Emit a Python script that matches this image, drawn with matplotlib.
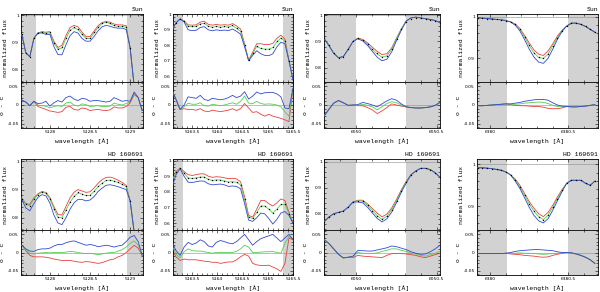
# Line profiles: observed flux vs three model fits, Sun and HD 160691, with o - c residuals
import matplotlib.pyplot as plt
from matplotlib.ticker import MultipleLocator, FuncFormatter

# wavelength grids (Angstrom), one per column
wl_5128 = [5127.65, 5127.70, 5127.75, 5127.80, 5127.85, 5127.90, 5127.95, 5128.00,
           5128.05, 5128.10, 5128.15, 5128.20, 5128.25, 5128.30, 5128.35, 5128.40,
           5128.45, 5128.50, 5128.55, 5128.60, 5128.65, 5128.70, 5128.75, 5128.80,
           5128.85, 5128.90, 5128.95, 5129.00, 5129.05, 5129.10, 5129.15]
wl_5164 = [5163.10, 5163.18, 5163.26, 5163.34, 5163.42, 5163.50, 5163.58, 5163.66,
           5163.74, 5163.82, 5163.90, 5163.98, 5164.06, 5164.14, 5164.22, 5164.30,
           5164.38, 5164.46, 5164.54, 5164.62, 5164.70, 5164.78, 5164.86, 5164.94,
           5165.02, 5165.10, 5165.18, 5165.26, 5165.34, 5165.42, 5165.50]
wl_6050 = [6049.80, 6049.83, 6049.86, 6049.89, 6049.92, 6049.95, 6049.98, 6050.01,
           6050.04, 6050.07, 6050.10, 6050.13, 6050.16, 6050.19, 6050.22, 6050.25,
           6050.28, 6050.31, 6050.34, 6050.37, 6050.40, 6050.43, 6050.46, 6050.49, 6050.52]
wl_6380 = [6379.92, 6379.95, 6379.98, 6380.01, 6380.04, 6380.07, 6380.10, 6380.13,
           6380.16, 6380.19, 6380.22, 6380.25, 6380.28, 6380.31, 6380.34, 6380.37,
           6380.40, 6380.43, 6380.46, 6380.49, 6380.52, 6380.55, 6380.58, 6380.61,
           6380.64, 6380.67]

# ---- Sun, 5128 ----
obs_sun1 = [0.930, 0.862, 0.848, 0.915, 0.935, 0.939, 0.936, 0.937, 0.900, 0.878, 0.883,
            0.918, 0.948, 0.957, 0.951, 0.932, 0.917, 0.917, 0.937, 0.957, 0.971, 0.976,
            0.972, 0.965, 0.962, 0.962, 0.958, 0.880, 0.740, 0.700, 0.680]
red_sun1 = [0.930, 0.862, 0.848, 0.915, 0.935, 0.940, 0.938, 0.940, 0.905, 0.882, 0.890,
            0.925, 0.955, 0.963, 0.958, 0.938, 0.922, 0.922, 0.942, 0.962, 0.974, 0.977,
            0.975, 0.968, 0.965, 0.965, 0.962, 0.880, 0.740, 0.700, 0.680]
green_sun1 = [0.930, 0.862, 0.848, 0.915, 0.935, 0.938, 0.935, 0.935, 0.898, 0.876, 0.880,
              0.915, 0.945, 0.954, 0.948, 0.930, 0.915, 0.915, 0.935, 0.955, 0.970, 0.975,
              0.970, 0.962, 0.960, 0.960, 0.956, 0.880, 0.740, 0.700, 0.680]
blue_sun1 = [0.930, 0.862, 0.848, 0.915, 0.935, 0.935, 0.930, 0.930, 0.885, 0.856, 0.855,
             0.892, 0.925, 0.940, 0.935, 0.915, 0.905, 0.905, 0.922, 0.943, 0.958, 0.963,
             0.960, 0.955, 0.953, 0.953, 0.948, 0.880, 0.740, 0.700, 0.680]
dred_sun1 = [0.013, 0.008, -0.002, 0.010, -0.004, -0.008, -0.012, -0.016, -0.018, -0.020, -0.018,
             -0.006, -0.004, -0.012, -0.014, -0.008, -0.010, -0.015, -0.013, -0.012, -0.014,
             -0.015, -0.013, -0.005, -0.008, -0.008, -0.004, 0.006, 0.028, 0.020, -0.015]
dgreen_sun1 = [0.013, 0.008, -0.002, 0.010, 0.000, -0.002, -0.003, -0.008, -0.004, -0.002, -0.004,
               0.005, 0.008, 0.000, -0.003, 0.003, 0.001, -0.004, -0.003, -0.002, -0.004,
               -0.004, -0.003, 0.005, 0.002, 0.000, 0.004, 0.008, 0.032, 0.020, -0.015]
dblue_sun1 = [0.013, 0.008, -0.002, 0.010, 0.004, 0.005, 0.010, -0.003, 0.006, 0.012, 0.008,
              0.020, 0.024, 0.016, 0.012, 0.018, 0.016, 0.010, 0.012, 0.012, 0.010,
              0.008, 0.010, 0.020, 0.015, 0.010, 0.012, 0.010, 0.035, 0.020, -0.015]

# ---- Sun, 5164 ----
obs_sun2 = [0.900, 0.945, 0.970, 0.955, 0.924, 0.922, 0.924, 0.940, 0.944, 0.924, 0.918,
            0.924, 0.918, 0.922, 0.920, 0.929, 0.912, 0.892, 0.802, 0.702, 0.747, 0.795,
            0.783, 0.778, 0.778, 0.788, 0.825, 0.850, 0.826, 0.700, 0.578]
red_sun2 = [0.900, 0.945, 0.970, 0.958, 0.932, 0.930, 0.932, 0.950, 0.955, 0.935, 0.930,
            0.935, 0.930, 0.933, 0.930, 0.940, 0.925, 0.905, 0.810, 0.705, 0.755, 0.810,
            0.810, 0.805, 0.805, 0.812, 0.845, 0.865, 0.840, 0.700, 0.578]
green_sun2 = [0.900, 0.945, 0.970, 0.955, 0.922, 0.920, 0.922, 0.938, 0.942, 0.922, 0.916,
              0.922, 0.916, 0.920, 0.918, 0.927, 0.910, 0.890, 0.800, 0.700, 0.745, 0.792,
              0.780, 0.775, 0.775, 0.785, 0.822, 0.847, 0.825, 0.700, 0.578]
blue_sun2 = [0.900, 0.945, 0.970, 0.950, 0.900, 0.895, 0.897, 0.915, 0.920, 0.900, 0.894,
             0.900, 0.895, 0.898, 0.895, 0.905, 0.890, 0.872, 0.790, 0.700, 0.735, 0.765,
             0.745, 0.735, 0.733, 0.745, 0.790, 0.820, 0.810, 0.700, 0.578]
dred_sun2 = [0.040, 0.015, -0.012, -0.010, -0.012, -0.012, -0.014, -0.010, -0.016, -0.018, -0.014,
             -0.016, -0.018, -0.016, -0.014, -0.010, -0.015, -0.010, 0.004, -0.008, -0.020,
             -0.018, -0.025, -0.030, -0.025, -0.030, -0.033, -0.036, -0.040, -0.045, 0.045]
dgreen_sun2 = [0.040, 0.015, -0.012, -0.005, 0.005, 0.002, 0.002, 0.006, -0.002, -0.003, 0.002,
               0.000, -0.002, 0.000, 0.003, 0.006, 0.002, 0.010, 0.024, 0.005, 0.004,
               0.010, 0.004, 0.002, 0.003, 0.002, 0.000, -0.005, -0.018, -0.030, 0.045]
dblue_sun2 = [0.040, 0.015, -0.012, 0.000, 0.022, 0.020, 0.018, 0.026, 0.015, 0.012, 0.018,
              0.016, 0.014, 0.016, 0.020, 0.026, 0.020, 0.024, 0.036, 0.016, 0.024,
              0.035, 0.030, 0.033, 0.034, 0.034, 0.030, 0.022, -0.008, -0.010, 0.045]

# ---- Sun, 6050 ----
obs_sun3 = [0.912, 0.885, 0.855, 0.838, 0.842, 0.870, 0.900, 0.912, 0.906, 0.892, 0.872,
            0.855, 0.842, 0.846, 0.872, 0.910, 0.946, 0.974, 0.986, 0.990, 0.988, 0.985,
            0.982, 0.978, 0.972]
red_sun3 = [0.912, 0.885, 0.855, 0.838, 0.842, 0.870, 0.900, 0.913, 0.908, 0.895, 0.878,
            0.862, 0.850, 0.853, 0.875, 0.913, 0.948, 0.978, 0.990, 0.993, 0.990, 0.987,
            0.984, 0.980, 0.972]
green_sun3 = [0.912, 0.885, 0.855, 0.838, 0.842, 0.870, 0.900, 0.912, 0.905, 0.890, 0.870,
              0.852, 0.840, 0.845, 0.870, 0.910, 0.947, 0.978, 0.990, 0.993, 0.990, 0.987,
              0.984, 0.980, 0.972]
blue_sun3 = [0.912, 0.885, 0.855, 0.838, 0.842, 0.870, 0.900, 0.910, 0.902, 0.885, 0.862,
             0.840, 0.826, 0.832, 0.860, 0.903, 0.943, 0.978, 0.990, 0.993, 0.990, 0.987,
             0.984, 0.980, 0.972]
dred_sun3 = [-0.030, -0.012, 0.005, 0.012, 0.006, -0.001, 0.000, -0.002, -0.002, -0.007, -0.013,
             -0.023, -0.016, -0.007, 0.003, 0.000, -0.003, -0.005, -0.007, -0.008, -0.008,
             -0.007, -0.005, -0.001, 0.007]
dgreen_sun3 = [-0.030, -0.012, 0.005, 0.012, 0.006, -0.001, 0.000, -0.001, 0.002, -0.001, -0.005,
               -0.013, -0.005, 0.004, 0.009, 0.006, 0.000, -0.005, -0.007, -0.008, -0.008,
               -0.007, -0.005, -0.001, 0.007]
dblue_sun3 = [-0.030, -0.012, 0.005, 0.012, 0.006, -0.001, 0.000, 0.001, 0.007, 0.004, 0.000,
              -0.005, 0.003, 0.011, 0.017, 0.013, 0.003, -0.005, -0.007, -0.008, -0.008,
              -0.007, -0.005, -0.001, 0.007]

# ---- Sun, 6380 ----
obs_sun4 = [0.998, 0.997, 0.996, 0.995, 0.994, 0.993, 0.991, 0.988, 0.982, 0.970, 0.952,
            0.932, 0.914, 0.903, 0.900, 0.911, 0.930, 0.950, 0.967, 0.978, 0.985, 0.985,
            0.982, 0.977, 0.970, 0.963]
red_sun4 = [0.998, 0.997, 0.996, 0.995, 0.994, 0.993, 0.991, 0.988, 0.983, 0.972, 0.955,
            0.937, 0.920, 0.910, 0.907, 0.918, 0.935, 0.954, 0.968, 0.978, 0.985, 0.985,
            0.982, 0.977, 0.970, 0.963]
green_sun4 = [0.998, 0.997, 0.996, 0.995, 0.994, 0.993, 0.991, 0.988, 0.982, 0.970, 0.951,
              0.931, 0.913, 0.902, 0.900, 0.910, 0.930, 0.950, 0.967, 0.978, 0.985, 0.985,
              0.982, 0.977, 0.970, 0.963]
blue_sun4 = [0.998, 0.997, 0.996, 0.995, 0.994, 0.993, 0.991, 0.988, 0.980, 0.966, 0.945,
             0.922, 0.903, 0.891, 0.888, 0.900, 0.922, 0.946, 0.965, 0.978, 0.985, 0.985,
             0.982, 0.977, 0.970, 0.963]
dred_sun4 = [-0.002, -0.002, -0.001, 0.000, 0.001, 0.002, 0.003, 0.001, -0.001, -0.002, -0.002,
             -0.003, -0.004, -0.004, -0.006, -0.009, -0.010, -0.010, -0.008, -0.004, -0.005,
             -0.005, -0.004, -0.003, -0.001, 0.001]
dgreen_sun4 = [-0.002, -0.002, -0.001, 0.000, 0.001, 0.002, 0.003, 0.002, 0.002, 0.003, 0.005,
               0.006, 0.007, 0.008, 0.007, 0.004, -0.001, -0.004, -0.005, -0.004, -0.005,
               -0.005, -0.004, -0.003, -0.001, 0.001]
dblue_sun4 = [-0.002, -0.002, -0.001, 0.000, 0.001, 0.002, 0.003, 0.003, 0.005, 0.007, 0.010,
              0.012, 0.014, 0.015, 0.015, 0.013, 0.006, 0.000, -0.003, -0.004, -0.005,
              -0.005, -0.004, -0.003, -0.001, 0.001]

# ---- HD 160691, 5128 ----
obs_hd1 = [0.867, 0.848, 0.842, 0.865, 0.882, 0.890, 0.887, 0.866, 0.832, 0.802, 0.800,
           0.828, 0.857, 0.877, 0.890, 0.886, 0.880, 0.882, 0.895, 0.912, 0.924, 0.934,
           0.935, 0.931, 0.926, 0.919, 0.911, 0.860, 0.750, 0.720, 0.700]
red_hd1 = [0.870, 0.850, 0.848, 0.870, 0.885, 0.893, 0.890, 0.872, 0.840, 0.812, 0.810,
           0.840, 0.870, 0.890, 0.900, 0.895, 0.890, 0.892, 0.905, 0.922, 0.935, 0.943,
           0.944, 0.940, 0.933, 0.925, 0.915, 0.860, 0.750, 0.720, 0.700]
green_hd1 = [0.870, 0.848, 0.843, 0.865, 0.882, 0.890, 0.887, 0.866, 0.832, 0.802, 0.800,
             0.828, 0.855, 0.875, 0.888, 0.884, 0.878, 0.880, 0.893, 0.910, 0.922, 0.932,
             0.933, 0.930, 0.925, 0.918, 0.910, 0.860, 0.750, 0.720, 0.700]
blue_hd1 = [0.865, 0.835, 0.825, 0.850, 0.872, 0.882, 0.878, 0.852, 0.810, 0.782, 0.776,
            0.800, 0.830, 0.853, 0.865, 0.865, 0.860, 0.863, 0.875, 0.893, 0.905, 0.915,
            0.917, 0.914, 0.910, 0.905, 0.900, 0.860, 0.750, 0.720, 0.700]
dred_hd1 = [0.020, 0.005, -0.008, -0.012, -0.012, -0.012, -0.013, -0.015, -0.018, -0.020, -0.022,
            -0.022, -0.022, -0.024, -0.026, -0.027, -0.025, -0.026, -0.028, -0.030, -0.028,
            -0.024, -0.020, -0.018, -0.012, -0.008, 0.000, 0.010, 0.020, 0.012, -0.008]
dgreen_hd1 = [0.020, 0.008, -0.002, -0.004, -0.002, -0.001, 0.000, -0.001, 0.000, 0.000, 0.000,
              0.001, 0.003, 0.002, 0.000, -0.002, -0.003, -0.002, -0.004, -0.006, -0.004,
              -0.002, 0.000, 0.000, 0.004, 0.008, 0.015, 0.025, 0.032, 0.020, -0.008]
dblue_hd1 = [0.020, 0.010, 0.004, 0.003, 0.008, 0.010, 0.010, 0.012, 0.018, 0.022, 0.022,
             0.027, 0.030, 0.032, 0.028, 0.024, 0.020, 0.022, 0.020, 0.016, 0.018,
             0.020, 0.018, 0.015, 0.018, 0.020, 0.030, 0.042, 0.047, 0.030, -0.008]

# ---- HD 160691, 5164 ----
obs_hd2 = [0.870, 0.925, 0.950, 0.920, 0.890, 0.886, 0.890, 0.896, 0.895, 0.880, 0.874,
           0.878, 0.877, 0.870, 0.864, 0.866, 0.863, 0.846, 0.752, 0.642, 0.632, 0.670,
           0.712, 0.712, 0.692, 0.667, 0.692, 0.722, 0.722, 0.662, 0.600]
red_hd2 = [0.890, 0.930, 0.952, 0.930, 0.910, 0.905, 0.910, 0.915, 0.915, 0.900, 0.893,
           0.897, 0.895, 0.890, 0.885, 0.887, 0.883, 0.865, 0.770, 0.650, 0.640, 0.690,
           0.745, 0.745, 0.725, 0.710, 0.730, 0.755, 0.745, 0.670, 0.600]
green_hd2 = [0.870, 0.925, 0.950, 0.920, 0.890, 0.885, 0.890, 0.895, 0.895, 0.880, 0.873,
             0.877, 0.876, 0.870, 0.863, 0.865, 0.862, 0.845, 0.750, 0.640, 0.630, 0.668,
             0.710, 0.710, 0.690, 0.665, 0.690, 0.720, 0.720, 0.660, 0.600]
blue_hd2 = [0.830, 0.910, 0.948, 0.900, 0.862, 0.860, 0.865, 0.870, 0.868, 0.852, 0.845,
            0.848, 0.850, 0.845, 0.835, 0.838, 0.835, 0.820, 0.725, 0.620, 0.612, 0.635,
            0.665, 0.660, 0.630, 0.595, 0.625, 0.665, 0.675, 0.650, 0.600]
dred_hd2 = [0.010, -0.012, -0.022, -0.018, -0.020, -0.020, -0.020, -0.022, -0.024, -0.025, -0.027,
            -0.027, -0.030, -0.028, -0.026, -0.026, -0.020, -0.012, -0.005, -0.010, -0.030,
            -0.034, -0.036, -0.036, -0.035, -0.040, -0.045, -0.052, -0.030, 0.040, 0.035]
dgreen_hd2 = [0.020, -0.005, -0.015, 0.002, 0.010, 0.005, 0.004, 0.004, 0.002, 0.000, -0.002,
              0.000, 0.000, 0.000, 0.000, 0.000, 0.003, 0.010, 0.020, 0.015, 0.000,
              0.000, 0.001, 0.002, 0.002, 0.003, 0.000, -0.002, 0.025, 0.045, 0.035]
dblue_hd2 = [0.030, 0.005, -0.008, 0.015, 0.028, 0.022, 0.026, 0.035, 0.030, 0.018, 0.015,
             0.028, 0.033, 0.030, 0.026, 0.024, 0.030, 0.040, 0.050, 0.035, 0.020,
             0.030, 0.038, 0.042, 0.046, 0.050, 0.040, 0.030, 0.040, 0.050, 0.035]

# ---- HD 160691, 6050 ----
obs_hd3 = [0.768, 0.787, 0.800, 0.805, 0.810, 0.825, 0.845, 0.850, 0.848, 0.832, 0.812,
           0.792, 0.778, 0.790, 0.815, 0.850, 0.888, 0.922, 0.950, 0.965, 0.975, 0.975,
           0.970, 0.958, 0.940]
red_hd3 = [0.768, 0.787, 0.800, 0.805, 0.810, 0.825, 0.845, 0.852, 0.852, 0.838, 0.820,
           0.802, 0.788, 0.798, 0.822, 0.855, 0.892, 0.925, 0.950, 0.965, 0.975, 0.975,
           0.970, 0.958, 0.940]
green_hd3 = [0.768, 0.787, 0.800, 0.805, 0.810, 0.825, 0.845, 0.850, 0.848, 0.832, 0.812,
             0.792, 0.778, 0.790, 0.815, 0.850, 0.888, 0.922, 0.950, 0.965, 0.975, 0.975,
             0.970, 0.958, 0.940]
blue_hd3 = [0.768, 0.787, 0.800, 0.805, 0.810, 0.825, 0.845, 0.845, 0.842, 0.825, 0.803,
            0.782, 0.768, 0.780, 0.806, 0.843, 0.883, 0.918, 0.950, 0.965, 0.975, 0.975,
            0.970, 0.958, 0.940]
dred_hd3 = [0.036, 0.025, 0.010, -0.005, -0.015, -0.013, -0.014, -0.008, -0.010, -0.011, -0.012,
            -0.013, -0.014, -0.008, -0.003, -0.003, -0.003, -0.004, -0.006, -0.008, -0.012,
            -0.014, -0.010, -0.006, -0.002]
dgreen_hd3 = [0.036, 0.025, 0.010, -0.005, -0.015, -0.013, -0.012, 0.000, -0.002, -0.003, -0.003,
              -0.001, 0.003, 0.006, 0.010, 0.010, 0.006, 0.003, -0.002, -0.004, -0.008,
              -0.010, -0.006, -0.002, 0.003]
dblue_hd3 = [0.036, 0.025, 0.010, -0.005, -0.015, -0.013, -0.010, 0.006, 0.005, 0.004, 0.004,
             0.007, 0.010, 0.013, 0.018, 0.016, 0.012, 0.008, 0.002, -0.002, -0.005,
             -0.004, 0.002, 0.010, 0.020]

# ---- HD 160691, 6380 ----
obs_hd4 = [0.992, 0.992, 0.991, 0.990, 0.988, 0.986, 0.982, 0.975, 0.963, 0.946, 0.926,
           0.905, 0.888, 0.875, 0.868, 0.878, 0.897, 0.918, 0.938, 0.955, 0.962, 0.962,
           0.962, 0.955, 0.950, 0.960]
red_hd4 = [0.992, 0.992, 0.991, 0.990, 0.988, 0.986, 0.982, 0.975, 0.965, 0.950, 0.930,
           0.911, 0.895, 0.882, 0.875, 0.885, 0.902, 0.922, 0.940, 0.955, 0.962, 0.962,
           0.962, 0.955, 0.950, 0.960]
green_hd4 = [0.992, 0.992, 0.991, 0.990, 0.988, 0.986, 0.982, 0.975, 0.963, 0.946, 0.926,
             0.905, 0.888, 0.875, 0.868, 0.878, 0.897, 0.918, 0.938, 0.955, 0.962, 0.962,
             0.962, 0.955, 0.950, 0.960]
blue_hd4 = [0.992, 0.992, 0.991, 0.990, 0.988, 0.986, 0.982, 0.975, 0.960, 0.942, 0.920,
            0.897, 0.878, 0.865, 0.860, 0.870, 0.890, 0.913, 0.935, 0.955, 0.962, 0.962,
            0.962, 0.955, 0.950, 0.960]
dred_hd4 = [-0.003, -0.003, -0.003, -0.003, -0.003, -0.003, -0.002, -0.004, -0.005, -0.006, -0.008,
            -0.009, -0.010, -0.012, -0.013, -0.012, -0.008, -0.005, -0.002, 0.000, -0.001,
            -0.004, -0.008, -0.013, -0.020, -0.030]
dgreen_hd4 = [-0.003, -0.003, -0.003, -0.003, -0.003, -0.003, -0.002, -0.002, -0.002, -0.001, -0.002,
              -0.002, -0.003, -0.004, -0.005, -0.004, -0.003, -0.002, -0.001, 0.000, -0.001,
              -0.004, -0.008, -0.013, -0.020, -0.030]
dblue_hd4 = [-0.003, -0.003, -0.003, -0.003, -0.003, -0.003, -0.002, 0.000, 0.003, 0.005, 0.006,
             0.007, 0.008, 0.008, 0.007, 0.006, 0.005, 0.002, 0.000, 0.000, -0.001,
             -0.004, -0.008, -0.013, -0.020, -0.030]

star_names = ['Sun', 'HD 160691']

# column settings: x limits, masked (grey) edges, main panel y limits per row
xlims = [(5127.64, 5129.16), (5163.12, 5165.50), (6049.80, 6050.52), (6379.915, 6380.69)]
grey_edges = [(5127.83, 5128.96), (5163.32, 5165.30), (6050.00, 6050.31), (6380.11, 6380.495)]
ylims_main = [[(0.755, 1.005), (0.563, 1.002), (0.745, 1.005), (0.843, 1.007)],
              [(0.757, 1.008), (0.557, 1.010), (0.737, 1.011), (0.843, 1.013)]]

panels = [
    [(wl_5128, obs_sun1, red_sun1, green_sun1, blue_sun1, dred_sun1, dgreen_sun1, dblue_sun1),
     (wl_5164, obs_sun2, red_sun2, green_sun2, blue_sun2, dred_sun2, dgreen_sun2, dblue_sun2),
     (wl_6050, obs_sun3, red_sun3, green_sun3, blue_sun3, dred_sun3, dgreen_sun3, dblue_sun3),
     (wl_6380, obs_sun4, red_sun4, green_sun4, blue_sun4, dred_sun4, dgreen_sun4, dblue_sun4)],
    [(wl_5128, obs_hd1, red_hd1, green_hd1, blue_hd1, dred_hd1, dgreen_hd1, dblue_hd1),
     (wl_5164, obs_hd2, red_hd2, green_hd2, blue_hd2, dred_hd2, dgreen_hd2, dblue_hd2),
     (wl_6050, obs_hd3, red_hd3, green_hd3, blue_hd3, dred_hd3, dgreen_hd3, dblue_hd3),
     (wl_6380, obs_hd4, red_hd4, green_hd4, blue_hd4, dred_hd4, dgreen_hd4, dblue_hd4)],
]

RED, GREEN, BLUE = '#e8403c', '#4fcf4f', '#3347d6'
GREY = '#d2d2d2'
W, H = 600, 292

# pixel boxes of the axes (left, right) and (top, mid, bottom)
col_px = [(21, 143), (173, 293), (324, 440), (477, 598)]
row_px = [(14, 82, 128), (159, 230, 275)]

lab_font = {'family': 'Liberation Mono', 'size': 4.6}

fmt = FuncFormatter(lambda v, p: '%g' % round(v, 3))


def style(ax):
    ax.tick_params(which='both', direction='in', top=True, right=True,
                   width=0.4, labelsize=3.2, pad=1.5)
    ax.tick_params(which='major', length=2.2)
    ax.tick_params(which='minor', length=1.1)
    for s in ax.spines.values():
        s.set_linewidth(0.6)
    for lab in ax.get_xticklabels() + ax.get_yticklabels():
        lab.set_family('DejaVu Sans')


fig = plt.figure(figsize=(W / 100, H / 100), dpi=100)

for r in range(2):
    top, mid, bot = row_px[r]
    for c in range(4):
        left, right = col_px[c]
        wl, obs, red, green, blue, dred, dgreen, dblue = panels[r][c]
        g0, g1 = grey_edges[c]

        ax = fig.add_axes([left / W, 1 - mid / H, (right - left) / W, (mid - top) / H])
        axr = fig.add_axes([left / W, 1 - bot / H, (right - left) / W, (bot - mid) / H], sharex=ax)

        for a in (ax, axr):
            a.axvspan(xlims[c][0], g0, color=GREY, lw=0, zorder=0)
            a.axvspan(g1, xlims[c][1], color=GREY, lw=0, zorder=0)

        ax.axhline(1.0, color='0.55', lw=0.4, zorder=1)
        ax.plot(wl, red, color=RED, lw=0.6, zorder=2)
        ax.plot(wl, green, color=GREEN, lw=0.6, zorder=3)
        ax.plot(wl, blue, color=BLUE, lw=0.6, zorder=4)
        ax.scatter(wl, obs, s=1.0, color='black', lw=0, zorder=5)

        axr.axhline(0.0, color='0.55', lw=0.4, zorder=1)
        axr.plot(wl, dred, color=RED, lw=0.6, zorder=2)
        axr.plot(wl, dgreen, color=GREEN, lw=0.6, zorder=3)
        axr.plot(wl, dblue, color=BLUE, lw=0.6, zorder=4)

        ax.set_xlim(*xlims[c])
        ax.set_ylim(*ylims_main[r][c])
        axr.set_ylim(-0.062, 0.062)

        ax.xaxis.set_major_locator(MultipleLocator(0.5))
        ax.xaxis.set_minor_locator(MultipleLocator(0.1))
        ax.yaxis.set_major_locator(MultipleLocator(0.1))
        ax.yaxis.set_minor_locator(MultipleLocator(0.02))
        axr.yaxis.set_major_locator(MultipleLocator(0.05))
        axr.yaxis.set_minor_locator(MultipleLocator(0.01))
        ax.yaxis.set_major_formatter(fmt)
        axr.yaxis.set_major_formatter(fmt)
        axr.xaxis.set_major_formatter(fmt)
        ax.tick_params(labelbottom=False)

        style(ax)
        style(axr)

        ax.set_ylabel('normalized flux', fontdict=lab_font, labelpad=3)
        axr.set_ylabel('o - c', fontdict=lab_font, labelpad=2)
        axr.set_xlabel('wavelength [\u00c5]', fontdict=lab_font, labelpad=3)
        ax.text(1.0, 1.03, star_names[r], transform=ax.transAxes, ha='right', va='bottom',
                fontdict=lab_font)

fig.savefig('out.png', dpi=100)
